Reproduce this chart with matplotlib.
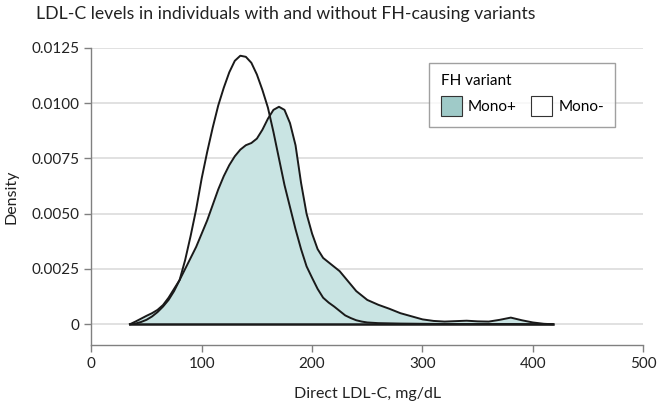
import matplotlib
matplotlib.use("Agg")
import matplotlib.pyplot as plt
from matplotlib.patches import Patch
from matplotlib.ticker import FuncFormatter

plt.rcParams["font.family"] = ["Lato", "DejaVu Sans"]

# Mono- (no FH variant) density curve
neg_x = [35, 40, 45, 50, 55, 60, 65, 70, 75, 80, 85, 90, 95, 100, 105, 110,
         115, 120, 125, 130, 135, 140, 145, 150, 155, 160, 165, 170, 175, 180,
         185, 190, 195, 200, 205, 210, 215, 220, 225, 230, 235, 240, 245, 250,
         260, 270, 280, 300, 320, 340, 360, 380, 400, 418]
neg_y = [0, 0.00003, 0.0001, 0.0002, 0.00035, 0.00055, 0.0008, 0.0011, 0.0015,
         0.0020, 0.0029, 0.0040, 0.0052, 0.0066, 0.0078, 0.0089, 0.0099, 0.0107,
         0.0114, 0.01192, 0.01215, 0.0121, 0.01183, 0.0113, 0.0106, 0.0098,
         0.0087, 0.0075, 0.0063, 0.0053, 0.0043, 0.0034, 0.00262, 0.0021,
         0.0016, 0.0012, 0.00098, 0.0008, 0.0006, 0.0004, 0.00028, 0.00018,
         0.00012, 0.00008, 0.00005, 0.00004, 0.00003, 0.00002, 0.00001,
         0.00001, 0.00001, 0.00001, 0.0, 0]

# Mono+ (FH variant carriers) density curve
pos_x = [35, 40, 45, 50, 55, 60, 65, 70, 75, 80, 85, 90, 95, 100, 105, 110,
         115, 120, 125, 130, 135, 140, 145, 150, 155, 160, 165, 170, 175, 180,
         185, 190, 195, 200, 205, 210, 215, 220, 225, 230, 235, 240, 245, 250,
         260, 270, 280, 290, 300, 310, 320, 330, 340, 350, 360, 370, 380, 390,
         400, 410, 418]
pos_y = [0, 0.00012, 0.00025, 0.00038, 0.0005, 0.00065, 0.00087, 0.0012,
         0.0016, 0.0020, 0.0025, 0.0030, 0.0035, 0.0041, 0.0047, 0.0054,
         0.0061, 0.0067, 0.0072, 0.0076, 0.0079, 0.0081, 0.0082, 0.0084,
         0.0088, 0.0093, 0.0097, 0.00984, 0.0097, 0.0091, 0.0081, 0.0064,
         0.0050, 0.0041, 0.0034, 0.0030, 0.0028, 0.0026, 0.0024, 0.0021,
         0.0018, 0.0015, 0.0013, 0.0011, 0.00088, 0.0007, 0.0005, 0.00036,
         0.00022, 0.00015, 0.00012, 0.00014, 0.00016, 0.00013, 0.00012,
         0.0002, 0.0003, 0.00018, 0.00008, 0.00002, 0]

y_ticks = [0, 0.0025, 0.0050, 0.0075, 0.0100, 0.0125]
x_ticks = [0, 100, 200, 300, 400, 500]

fill_col = "#c9e4e3"
patch_col = "#9fcac8"
axis_col = "#808080"

fig = plt.figure(figsize=(6.61, 4.07), dpi=100)
ax = fig.add_axes([0.1381, 0.1523, 0.8351, 0.7298])

ax.set_xlim(0, 500)
ax.set_ylim(-0.00094, 0.0125)

for t in y_ticks:
    ax.axhline(t, color="#dcdcdc", lw=1.2, zorder=0)

ax.fill_between(pos_x, pos_y, 0, color=fill_col, lw=0, zorder=1)
ax.plot(pos_x, pos_y, color="#1a1a1a", lw=1.4, zorder=3)
ax.plot(neg_x, neg_y, color="#1a1a1a", lw=1.4, zorder=3)
ax.plot([pos_x[0], pos_x[-1]], [0, 0], color="#1a1a1a", lw=1.8, zorder=3)

ax.set_xticks(x_ticks)
ax.set_yticks(y_ticks)
ax.yaxis.set_major_formatter(FuncFormatter(lambda v, p: "0" if v == 0 else f"{v:.4f}"))

for s in ["top", "right"]:
    ax.spines[s].set_visible(False)
for s in ["left", "bottom"]:
    ax.spines[s].set_color(axis_col)
    ax.spines[s].set_linewidth(1.0)
ax.tick_params(colors=axis_col, length=5, width=1.0, labelcolor="#222222", labelsize=11)

ax.set_xlabel("Direct LDL-C, mg/dL", fontsize=11.5, color="#222222", labelpad=12)
ax.set_ylabel("Density", fontsize=11.5, color="#222222", labelpad=9)

fig.text(0.054, 0.966, "LDL-C levels in individuals with and without FH-causing variants",
         fontsize=12.7, color="#222222", va="center", ha="left")

handles = [Patch(facecolor=patch_col, edgecolor="#333333", lw=0.8, label="Mono+"),
           Patch(facecolor="white", edgecolor="#333333", lw=0.8, label="Mono-")]
leg = ax.legend(handles=handles, title="FH variant", ncol=2, loc="upper left",
                bbox_to_anchor=(0.612, 0.95), borderaxespad=0,
                fontsize=11, title_fontsize=11,
                frameon=True, fancybox=False, edgecolor="#888888",
                handlelength=1.4, handleheight=1.6, columnspacing=0.9,
                handletextpad=0.4, borderpad=0.75, alignment="left")
leg.get_frame().set_linewidth(1.0)

fig.savefig("out.png", dpi=100)
